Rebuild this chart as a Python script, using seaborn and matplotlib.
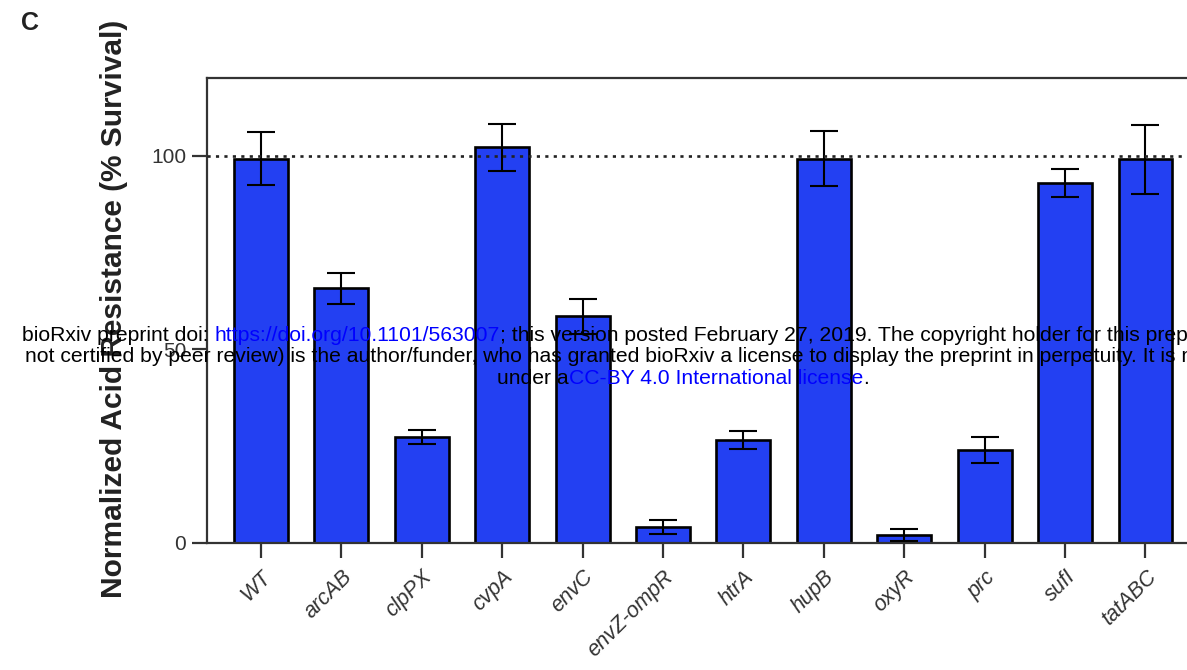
import matplotlib
matplotlib.use("Agg")
import matplotlib.pyplot as plt
import seaborn as sns
import pandas as pd

# ---- data ----
strains = ["WT", "arcAB", "clpPX", "cvpA", "envC", "envZ-ompR", "htrA",
           "hupB", "oxyR", "prc", "sufI", "tatABC"]
survival = [99.2, 65.7, 27.3, 102.1, 58.5, 4.1, 26.5, 99.2, 2.1, 24.0, 93.0, 99.0]
sem = [6.8, 4.0, 1.8, 6.0, 4.5, 1.8, 2.3, 7.0, 1.5, 3.3, 3.6, 9.0]
yticks = [0, 50, 100]
ylabel = "Normalized Acid Resistance (% Survival)"
panel = "C"
wm_line1 = ["bioRxiv preprint doi: ", "https://doi.org/10.1101/563007",
            "; this version posted February 27, 2019. The copyright holder for this preprint (which was"]
wm_line2 = ["not certified by peer review) is the author/funder, who has granted bioRxiv a license to display the preprint in perpetuity. It is made available"]
wm_line3 = ["under a", "CC-BY 4.0 International license", "."]

sns.set_style("ticks")
plt.rcParams["font.family"] = ["Liberation Sans", "DejaVu Sans"]

W, H = 1187, 670
fig = plt.figure(figsize=(W / 100, H / 100), dpi=100)
ax_left, ax_right, ax_top, ax_bot = 207, 1242, 78, 543
ax = fig.add_axes([ax_left / W, 1 - ax_bot / H, (ax_right - ax_left) / W, (ax_bot - ax_top) / H])

df = pd.DataFrame({"strain": strains, "survival": survival})
bar_color = "#2340F2"
sns.barplot(data=df, x="strain", y="survival", ax=ax, color=bar_color,
            saturation=1, width=0.67, edgecolor="black", linewidth=1.9, zorder=2)
ax.errorbar(strains, survival, yerr=sem, fmt="none", ecolor="black",
            elinewidth=1.5, capsize=10, capthick=1.5, zorder=3)

ax.axhline(100, color="#222222", lw=1.9, ls=(0, (1.2, 2.0)), zorder=4)

ax.set_ylim(0, 120)
ax.set_xlim(-0.67, 12.2)
ax.set_yticks(yticks)
ax.set_xlabel("")
ax.set_ylabel("")

for s in ax.spines.values():
    s.set_color("#333333")
    s.set_linewidth(1.6)

ax.tick_params(axis="both", length=11, width=1.6, color="#333333", labelcolor="#333333")
ax.tick_params(axis="y", labelsize=15, pad=4)
ax.tick_params(axis="x", labelsize=15.5, pad=6)
for lab in ax.get_xticklabels():
    lab.set_rotation(45)
    lab.set_ha("right")
    lab.set_va("top")
    lab.set_rotation_mode("anchor")
    lab.set_style("italic")

fig.text(114 / W, 1 - 309 / H, ylabel, rotation=90, ha="center", va="center",
         fontsize=21.5, fontweight="bold", color="#222222")
fig.text(30 / W, 1 - 23 / H, panel, ha="center", va="center",
         fontsize=18, fontweight="bold", color="#222222")

# watermark lines (multi-coloured segments chained)
FS = 15.2
def chained(parts, x_px, y_px, colors):
    prev = None
    for txt, c in zip(parts, colors):
        if prev is None:
            prev = fig.text(x_px / W, 1 - y_px / H, txt, ha="left", va="baseline",
                            fontsize=FS, color=c, zorder=10)
        else:
            prev = ax.annotate(txt, xy=(1, 0), xycoords=prev, ha="left", va="bottom",
                               fontsize=FS, color=c, zorder=10, annotation_clip=False)

chained(wm_line1, 22, 341, ["black", "#0000FF", "black"])
chained(wm_line2, 25, 362, ["black"])
chained(wm_line3, 497, 384, ["black", "#0000FF", "black"])

fig.savefig("out.png", dpi=100)
